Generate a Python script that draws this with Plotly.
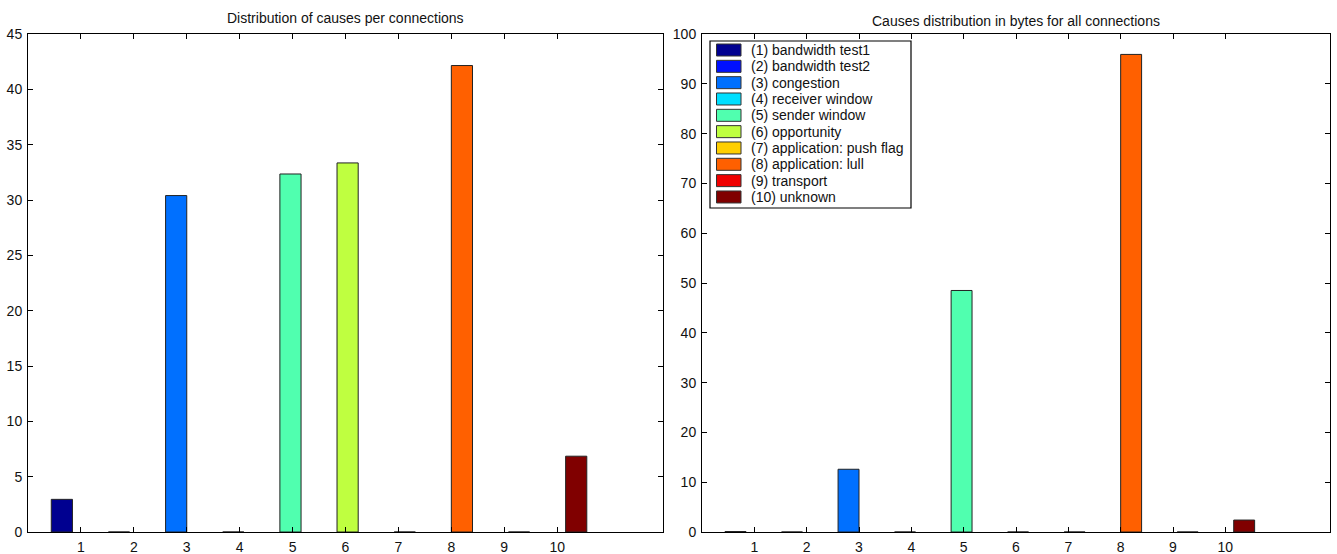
import plotly.graph_objects as go

# ---- data ----
cause_ids = [1, 2, 3, 4, 5, 6, 7, 8, 9, 10]
cause_names = [
    "(1) bandwidth test1", "(2) bandwidth test2", "(3) congestion",
    "(4) receiver window", "(5) sender window", "(6) opportunity",
    "(7) application: push flag", "(8) application: lull",
    "(9) transport", "(10) unknown",
]
per_connection_pct = [2.95, 0, 30.4, 0, 32.35, 33.35, 0, 42.15, 0, 6.85]
bytes_pct = [0.1, 0, 12.6, 0, 48.5, 0, 0, 95.9, 0, 2.4]
x_ticks = [1, 2, 3, 4, 5, 6, 7, 8, 9, 10]

# ---- styles ----
colors = ["#000090", "#0010FF", "#0070FF", "#00DFFF", "#50FFAF",
          "#BFFF40", "#FFCF00", "#FF6000", "#F00000", "#800000"]
GROUP_STEP = 0.08
BAR_W = 0.4
FONT = "Liberation Sans, Arial, sans-serif"
TXT = "#111111"

W, H = 1337, 554
ml, mr, mt, mb = 28, 7, 34, 22
pw = W - ml - mr
ph = H - mt - mb


def px(xp):
    return (xp - ml) / pw


def py(yp):
    return (H - mb - yp) / ph


left_dom = [0, px(663)]
right_dom = [px(702), 1]

fig = go.Figure()

for i, cid in enumerate(cause_ids):
    xpos = cid + (cid - 5.5) * GROUP_STEP
    fig.add_trace(go.Bar(
        x=[xpos], y=[per_connection_pct[i]], width=BAR_W,
        marker=dict(color=colors[i], line=dict(color="#222222", width=1)),
        name=cause_names[i], showlegend=False, xaxis="x", yaxis="y",
    ))
for i, cid in enumerate(cause_ids):
    xpos = cid + (cid - 5.5) * GROUP_STEP
    fig.add_trace(go.Bar(
        x=[xpos], y=[bytes_pct[i]], width=BAR_W,
        marker=dict(color=colors[i], line=dict(color="#222222", width=1)),
        name=cause_names[i], showlegend=False, xaxis="x2", yaxis="y2",
    ))

axis_common = dict(
    showline=True, linecolor="black", linewidth=1, mirror="allticks",
    ticks="inside", ticklen=5, tickcolor="black", showgrid=False,
    zeroline=False, automargin=False, ticklabelstandoff=2,
    tickfont=dict(size=14, color=TXT, family=FONT),
)

# ---- legend (drawn as a boxed key on the right panel) ----
LEG_L, LEG_R, LEG_T, LEG_B = 710, 911, 41, 208
ROW0, ROW_STEP = 50, 16.33
SW_L, SW_R, SW_H = 716.5, 741, 12
TEXT_X = 749

shapes = [dict(type="rect", xref="paper", yref="paper",
               x0=px(LEG_L), x1=px(LEG_R), y0=py(LEG_B), y1=py(LEG_T),
               line=dict(color="black", width=1.2), fillcolor="white", layer="above")]
annotations = []
for k, name in enumerate(cause_names):
    yc = ROW0 + k * ROW_STEP
    shapes.append(dict(type="rect", xref="paper", yref="paper",
                       x0=px(SW_L), x1=px(SW_R), y0=py(yc + SW_H / 2), y1=py(yc - SW_H / 2),
                       line=dict(color="#333333", width=1), fillcolor=colors[k], layer="above"))
    annotations.append(dict(text=name, xref="paper", yref="paper", x=px(TEXT_X), y=py(yc),
                            xanchor="left", yanchor="middle", showarrow=False,
                            font=dict(size=14, family=FONT, color=TXT)))

annotations += [
    dict(text="Distribution of causes per connections", xref="paper", yref="paper",
         x=(left_dom[0] + left_dom[1]) / 2, y=py(18), xanchor="center",
         yanchor="middle", showarrow=False, font=dict(size=14, family=FONT, color=TXT)),
    dict(text="Causes distribution in bytes for all connections", xref="paper", yref="paper",
         x=(right_dom[0] + right_dom[1]) / 2, y=py(21), xanchor="center",
         yanchor="middle", showarrow=False, font=dict(size=14, family=FONT, color=TXT)),
]

fig.update_layout(
    width=W, height=H,
    margin=dict(l=ml, r=mr, t=mt, b=mb, autoexpand=False),
    paper_bgcolor="white", plot_bgcolor="white",
    barmode="overlay",
    showlegend=False,
    font=dict(family=FONT, size=14, color=TXT),
    xaxis=dict(domain=left_dom, range=[0, 12], tickvals=x_ticks, anchor="y", **axis_common),
    yaxis=dict(range=[0, 45], dtick=5, tick0=0, anchor="x", **axis_common),
    xaxis2=dict(domain=right_dom, range=[0, 12], tickvals=x_ticks, anchor="y2", **axis_common),
    yaxis2=dict(range=[0, 100], dtick=10, tick0=0, anchor="x2", **axis_common),
    shapes=shapes,
    annotations=annotations,
)

fig.write_html("out.html")
